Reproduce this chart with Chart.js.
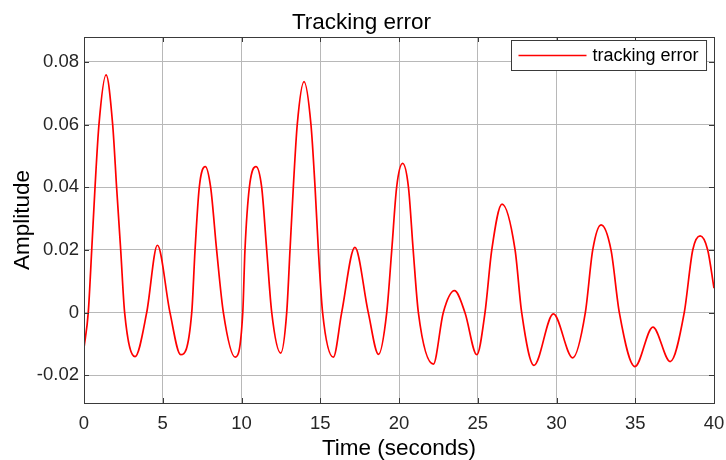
<!DOCTYPE html>
<html>
<head>
<meta charset="utf-8">
<title>Tracking error</title>
<script src="https://cdn.jsdelivr.net/npm/chart.js@4.4.0/dist/chart.umd.min.js"></script>
<style>
  html, body { margin: 0; padding: 0; background: #ffffff; }
  #wrap { width: 726px; height: 460px; }
</style>
</head>
<body>
<div id="wrap"><canvas id="trackingChart" width="726" height="460"></canvas></div>
<script>
// Values (time in seconds, error amplitude)
const timeValues = [
  0, 0.27, 0.49, 0.70, 0.95, 1.40, 1.82, 2.07, 2.33, 2.58,
  3.24, 3.98, 4.66, 5.46, 6.14, 6.84, 7.05, 7.32, 7.70, 8.04,
  8.42, 8.85, 9.60, 10.08, 10.22, 10.50, 10.92, 11.28, 11.60, 11.92,
  12.49, 12.87, 13.08, 13.29, 13.54, 13.97, 14.41, 14.67, 14.88, 15.15,
  15.83, 16.36, 17.20, 18.05, 18.70, 19.22, 19.54, 19.85, 20.23, 20.60,
  20.90, 21.23, 22.18, 22.81, 23.52, 24.19, 24.94, 25.46, 25.89, 26.54,
  27.37, 27.79, 28.57, 29.80, 31.03, 31.83, 32.30, 32.83, 33.46, 33.99,
  34.98, 36.12, 37.22, 38.11, 38.65, 39.12, 39.60, 40.00
];
const errorValues = [
  -0.0112, 0, 0.02, 0.04, 0.06, 0.0758, 0.06, 0.04, 0.02, 0,
  -0.0140, 0, 0.0215, 0, -0.0134, 0, 0.02, 0.04, 0.0466, 0.04,
  0.02, 0, -0.0142, 0, 0.02, 0.04, 0.0466, 0.04, 0.02, 0,
  -0.0129, 0, 0.02, 0.04, 0.06, 0.0737, 0.06, 0.04, 0.02, 0,
  -0.0142, 0, 0.0208, 0, -0.0133, 0, 0.02, 0.04, 0.0476, 0.04,
  0.02, 0, -0.0164, 0, 0.0070, 0, -0.0134, 0, 0.02, 0.0346,
  0.02, 0, -0.0168, -0.0004, -0.0144, 0, 0.02, 0.0280, 0.02, 0,
  -0.0172, -0.0046, -0.0156, 0, 0.02, 0.0245, 0.02, 0.0078
];

// Axis ticks
const xTickValues = [0, 5, 10, 15, 20, 25, 30, 35, 40];
const yTickValues = [-0.02, 0, 0.02, 0.04, 0.06, 0.08];

const FONT = "'Liberation Sans', Arial, Helvetica, sans-serif";
const AXIS_COLOR = '#262626';
const GRID_COLOR = '#b8b8b8';
const FRAME_COLOR = '#3a3a3a';

/**
 * Draws the boxed axes (with inward ticks) and the in-plot legend,
 * the way MATLAB renders them.
 */
const boxAndLegendPlugin = {
  id: 'boxAndLegend',
  afterDraw(chart) {
    const { ctx, chartArea } = chart;
    const { left, right, top, bottom } = chartArea;
    const xScale = chart.scales.x;
    const yScale = chart.scales.y;
    const tickLen = 5;

    ctx.save();
    ctx.strokeStyle = FRAME_COLOR;
    ctx.lineWidth = 1;

    // inward ticks on all four sides
    ctx.beginPath();
    xTickValues.forEach(v => {
      const px = Math.round(xScale.getPixelForValue(v)) + 0.5;
      ctx.moveTo(px, bottom);
      ctx.lineTo(px, bottom - tickLen);
      ctx.moveTo(px, top);
      ctx.lineTo(px, top + tickLen);
    });
    yTickValues.forEach(v => {
      const py = Math.round(yScale.getPixelForValue(v)) + 0.5;
      ctx.moveTo(left, py);
      ctx.lineTo(left + tickLen, py);
      ctx.moveTo(right, py);
      ctx.lineTo(right - tickLen, py);
    });
    ctx.stroke();

    // axes box
    ctx.strokeRect(Math.round(left) + 0.5, Math.round(top) + 0.5,
      Math.round(right - left), Math.round(bottom - top));

    // legend
    const ds = chart.data.datasets[0];
    ctx.font = '18px ' + FONT;
    const textWidth = ctx.measureText(ds.label).width;
    const sampleLen = 68;
    const boxW = 7 + sampleLen + 6 + textWidth + 8;
    const boxH = 30;
    const boxX = Math.round(right - 7.5 - boxW) + 0.5;
    const boxY = Math.round(top + 3) + 0.5;

    ctx.fillStyle = '#ffffff';
    ctx.fillRect(boxX, boxY, boxW, boxH);
    ctx.strokeStyle = FRAME_COLOR;
    ctx.strokeRect(boxX, boxY, boxW, boxH);

    const midY = boxY + boxH / 2;
    ctx.strokeStyle = ds.borderColor;
    ctx.lineWidth = ds.borderWidth;
    ctx.beginPath();
    ctx.moveTo(boxX + 7, midY);
    ctx.lineTo(boxX + 7 + sampleLen, midY);
    ctx.stroke();

    ctx.fillStyle = '#000000';
    ctx.textBaseline = 'middle';
    ctx.textAlign = 'left';
    ctx.fillText(ds.label, boxX + 7 + sampleLen + 6, midY + 1);
    ctx.restore();
  }
};

function renderTrackingChart() {
  const canvas = document.getElementById('trackingChart');
  const ctx = canvas.getContext('2d');

  const points = timeValues.map((t, i) => ({ x: t, y: errorValues[i] }));

  new Chart(ctx, {
    type: 'line',
    data: {
      datasets: [{
        label: 'tracking error',
        data: points,
        borderColor: '#ff0000',
        borderWidth: 1.7,
        pointRadius: 0,
        fill: false,
        cubicInterpolationMode: 'monotone'
      }]
    },
    options: {
      responsive: false,
      animation: false,
      events: [],
      layout: {
        padding: { top: 0, right: 12, bottom: 0, left: 9 }
      },
      plugins: {
        legend: { display: false },
        tooltip: { enabled: false },
        title: {
          display: true,
          text: 'Tracking error',
          color: '#000000',
          font: { family: FONT, size: 22.5, weight: 'normal', lineHeight: 1.0 },
          padding: { top: 12, bottom: 2.5 }
        }
      },
      scales: {
        x: {
          type: 'linear',
          min: 0,
          max: 40,
          afterBuildTicks: scale => {
            scale.ticks = xTickValues.map(v => ({ value: v }));
          },
          // fixed axis band height, no extra room for edge labels
          afterFit: scale => {
            scale.height = 57;
            scale.paddingLeft = 0;
            scale.paddingRight = 0;
          },
          ticks: {
            color: AXIS_COLOR,
            font: { family: FONT, size: 18.5, lineHeight: 1.0 },
            padding: 12,
            maxRotation: 0,
            autoSkip: false
          },
          grid: { color: GRID_COLOR, drawTicks: false, lineWidth: 1 },
          border: { display: false },
          title: {
            display: true,
            text: 'Time (seconds)',
            color: '#000000',
            font: { family: FONT, size: 22.5, weight: 'normal', lineHeight: 1.0 },
            padding: { top: 2, bottom: 0 }
          }
        },
        y: {
          type: 'linear',
          min: -0.0288,
          max: 0.0879,
          afterBuildTicks: scale => {
            scale.ticks = yTickValues.map(v => ({ value: v }));
          },
          afterFit: scale => {
            scale.width = 75;
            scale.paddingTop = 0;
            scale.paddingBottom = 0;
          },
          ticks: {
            color: AXIS_COLOR,
            font: { family: FONT, size: 18.5, lineHeight: 1.0 },
            padding: 5,
            autoSkip: false,
            callback: v => (Math.abs(v) < 1e-9 ? '0' : v.toFixed(2))
          },
          grid: { color: GRID_COLOR, drawTicks: false, lineWidth: 1 },
          border: { display: false },
          title: {
            display: true,
            text: 'Amplitude',
            color: '#000000',
            font: { family: FONT, size: 22.5, weight: 'normal', lineHeight: 1.0 },
            padding: { top: 3, bottom: 2 }
          }
        }
      }
    },
    plugins: [boxAndLegendPlugin]
  });
}

if (document.readyState === 'loading') {
  document.addEventListener('DOMContentLoaded', renderTrackingChart);
} else {
  renderTrackingChart();
}
</script>
</body>
</html>
